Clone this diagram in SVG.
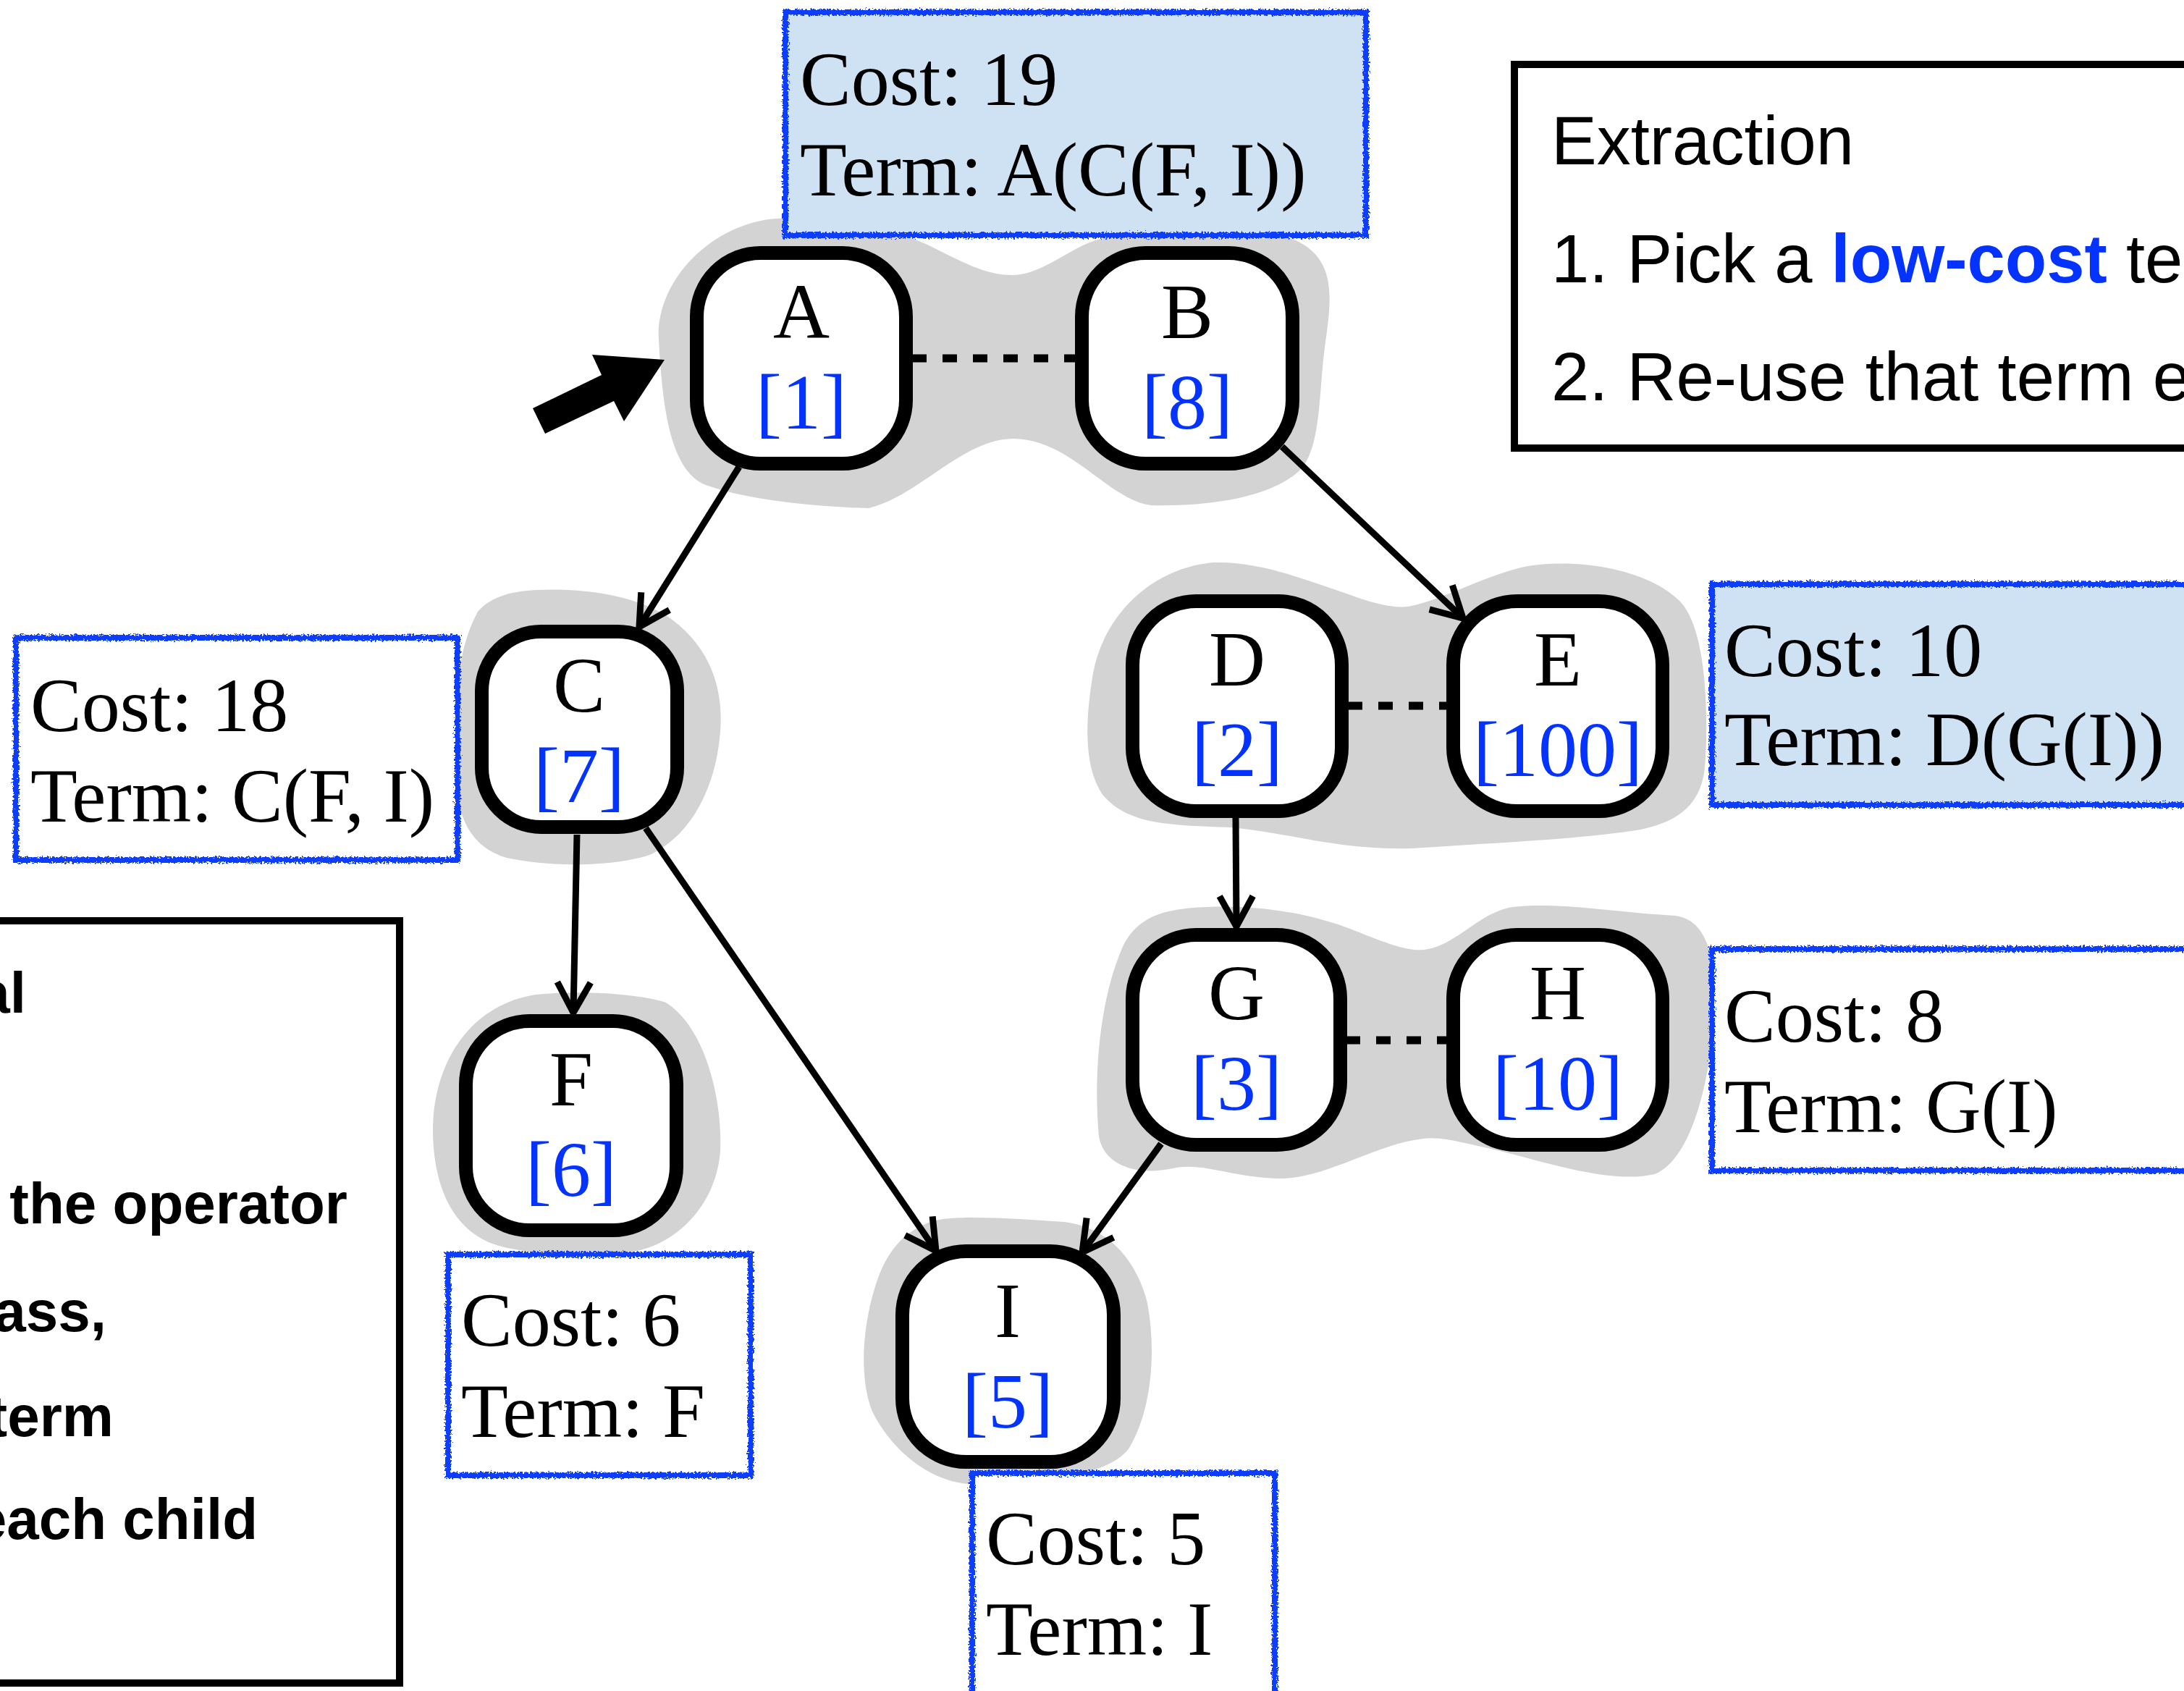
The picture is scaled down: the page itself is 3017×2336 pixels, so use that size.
<svg xmlns="http://www.w3.org/2000/svg" width="3017" height="2336" viewBox="0 0 3017 2336">
  <defs>
    <style>
      .blob { fill: #d3d3d3; }
      .node rect { fill: #ffffff; stroke: #000000; stroke-width: 19; }
      .lbl { font-family: "Liberation Serif", "Times New Roman", serif; font-size: 108px; text-anchor: middle; fill: #000000; }
      .num { font-family: "Liberation Serif", "Times New Roman", serif; font-size: 108px; text-anchor: middle; fill: #0433ff; }
      .fill-blue { fill: #cfe2f3; }
      .fill-white { fill: #ffffff; }
      .rough { fill: none; stroke: #0a3cff; stroke-width: 8; filter: url(#rough); }
      .cost { font-family: "Liberation Serif", "Times New Roman", serif; font-size: 106px; fill: #000000; }
      .edge { fill: none; stroke: #000000; stroke-width: 9; marker-end: url(#arrow); }
      .equiv { fill: none; stroke: #000000; stroke-width: 11; stroke-dasharray: 20 22; }
      .panel { fill: #ffffff; stroke: #000000; stroke-width: 10; }
      .sans { font-family: "Liberation Sans", Arial, Helvetica, sans-serif; fill: #000000; }
      .hl { fill: #0433ff; font-weight: bold; }
    </style>
    <marker id="arrow" markerUnits="userSpaceOnUse" markerWidth="80" markerHeight="80" viewBox="-60 -40 80 80" refX="0" refY="0" orient="auto" overflow="visible">
      <path d="M -42 -23 L 0 0 L -42 23" fill="none" stroke="#000000" stroke-width="9" stroke-linejoin="miter"/>
    </marker>
    <filter id="rough" x="-5%" y="-5%" width="110%" height="110%">
      <feTurbulence type="fractalNoise" baseFrequency="0.4" numOctaves="2" seed="3"/>
      <feDisplacementMap in="SourceGraphic" scale="8" xChannelSelector="R" yChannelSelector="G"/>
    </filter>
  </defs>

  <!-- e-class backgrounds -->
  <g id="classes">
    <path id="class-AB" class="blob" d="M 1071 302 C 1150 300, 1230 315, 1279 337 C 1330 362, 1360 380, 1399 380 C 1440 380, 1480 340, 1520 330 C 1600 312, 1740 310, 1790 332 C 1850 360, 1838 420, 1830 480 C 1822 540, 1825 610, 1800 645 C 1760 690, 1660 700, 1590 698 C 1530 690, 1480 607, 1400 606 C 1330 606, 1270 685, 1200 702 C 1120 700, 1030 690, 975 670 C 925 650, 915 560, 910 470 C 905 390, 980 310, 1071 302 Z"/>
    <path id="class-C" class="blob" d="M 740 815 C 800 812, 870 820, 920 850 C 980 890, 1000 950, 995 1010 C 990 1080, 960 1150, 900 1180 C 850 1198, 760 1198, 700 1185 C 650 1170, 630 1130, 628 1060 C 626 980, 630 900, 660 845 C 680 822, 710 817, 740 815 Z"/>
    <path id="class-F" class="blob" d="M 740 1374 C 800 1368, 880 1372, 920 1385 C 975 1420, 998 1520, 995 1590 C 990 1660, 940 1715, 880 1728 C 820 1738, 730 1735, 680 1718 C 620 1695, 598 1630, 598 1560 C 598 1480, 640 1390, 740 1374 Z"/>
    <path id="class-DE" class="blob" d="M 1676 777 C 1740 775, 1800 800, 1860 820 C 1900 835, 1925 840, 1945 838 C 1990 830, 2050 795, 2110 782 C 2190 770, 2280 790, 2320 830 C 2360 870, 2360 1000, 2355 1060 C 2350 1110, 2320 1135, 2266 1146 C 2180 1160, 2050 1165, 1950 1172 C 1850 1175, 1780 1150, 1700 1143 C 1620 1140, 1560 1140, 1525 1100 C 1495 1060, 1500 990, 1510 930 C 1525 850, 1590 785, 1676 777 Z"/>
    <path id="class-GH" class="blob" d="M 1668 1253 C 1750 1250, 1820 1265, 1870 1285 C 1920 1305, 1945 1314, 1966 1312 C 2010 1308, 2040 1262, 2089 1253 C 2150 1245, 2250 1262, 2314 1265 C 2360 1270, 2372 1330, 2368 1400 C 2364 1480, 2340 1600, 2286 1622 C 2230 1635, 2150 1610, 2080 1592 C 2020 1578, 1990 1570, 1966 1573 C 1900 1580, 1830 1630, 1764 1628 C 1700 1626, 1660 1605, 1620 1614 C 1570 1625, 1525 1610, 1518 1570 C 1510 1480, 1520 1380, 1550 1310 C 1570 1265, 1610 1255, 1668 1253 Z"/>
    <path id="class-I" class="blob" d="M 1313 1683 C 1360 1680, 1420 1685, 1470 1688 C 1530 1695, 1570 1740, 1585 1800 C 1598 1870, 1590 1950, 1560 2000 C 1530 2045, 1400 2050, 1337 2050 C 1280 2045, 1230 2000, 1205 1950 C 1185 1900, 1192 1820, 1215 1760 C 1235 1710, 1270 1686, 1313 1683 Z"/>
  </g>

  <!-- cost / term annotations -->
  <g id="cost-A">
    <rect class="fill-blue" x="1085" y="17" width="802" height="308"/>
    <rect class="rough" x="1085" y="17" width="802" height="308"/>
    <text class="cost" x="1105" y="145">Cost: 19</text>
    <text class="cost" x="1105" y="270">Term: A(C(F, I))</text>
  </g>
  <g id="cost-C">
    <rect class="fill-white" x="22" y="881" width="610" height="307"/>
    <rect class="rough" x="22" y="881" width="610" height="307"/>
    <text class="cost" x="42" y="1010">Cost: 18</text>
    <text class="cost" x="42" y="1135">Term: C(F, I)</text>
  </g>
  <g id="cost-E">
    <rect class="fill-blue" x="2365" y="807" width="700" height="305"/>
    <rect class="rough" x="2365" y="807" width="700" height="305"/>
    <text class="cost" x="2382" y="934">Cost: 10</text>
    <text class="cost" x="2382" y="1057">Term: D(G(I))</text>
  </g>
  <g id="cost-G">
    <rect class="fill-white" x="2365" y="1311" width="700" height="306"/>
    <rect class="rough" x="2365" y="1311" width="700" height="306"/>
    <text class="cost" x="2382" y="1439">Cost: 8</text>
    <text class="cost" x="2382" y="1564">Term: G(I)</text>
  </g>
  <g id="cost-F">
    <rect class="fill-white" x="619" y="1733" width="418" height="305"/>
    <rect class="rough" x="619" y="1733" width="418" height="305"/>
    <text class="cost" x="637" y="1859">Cost: 6</text>
    <text class="cost" x="637" y="1985">Term: F</text>
  </g>
  <g id="cost-I">
    <rect class="fill-white" x="1343" y="2035" width="418" height="400"/>
    <rect class="rough" x="1343" y="2035" width="418" height="400"/>
    <text class="cost" x="1362" y="2161">Cost: 5</text>
    <text class="cost" x="1362" y="2286">Term: I</text>
  </g>

  <!-- e-nodes -->
  <g id="node-A" class="node">
    <rect x="962.5" y="349.5" width="289" height="291" rx="88"/>
    <text class="lbl" x="1107" y="467">A</text>
    <text class="num" x="1107" y="592">[1]</text>
  </g>
  <g id="node-B" class="node">
    <rect x="1494.5" y="349.5" width="291" height="291" rx="88"/>
    <text class="lbl" x="1640" y="467">B</text>
    <text class="num" x="1640" y="592">[8]</text>
  </g>
  <g id="node-C" class="node">
    <rect x="665.5" y="872.5" width="270" height="270" rx="82"/>
    <text class="lbl" x="800" y="983">C</text>
    <text class="num" x="800" y="1108">[7]</text>
  </g>
  <g id="node-D" class="node">
    <rect x="1564.5" y="830.5" width="289" height="290" rx="88"/>
    <text class="lbl" x="1709" y="947">D</text>
    <text class="num" x="1709" y="1072">[2]</text>
  </g>
  <g id="node-E" class="node">
    <rect x="2007.5" y="830.5" width="289" height="290" rx="88"/>
    <text class="lbl" x="2152" y="947">E</text>
    <text class="num" x="2152" y="1072">[100]</text>
  </g>
  <g id="node-G" class="node">
    <rect x="1564.5" y="1291.5" width="287" height="290" rx="88"/>
    <text class="lbl" x="1708" y="1408">G</text>
    <text class="num" x="1708" y="1533">[3]</text>
  </g>
  <g id="node-H" class="node">
    <rect x="2007.5" y="1291.5" width="289" height="290" rx="88"/>
    <text class="lbl" x="2152" y="1408">H</text>
    <text class="num" x="2152" y="1533">[10]</text>
  </g>
  <g id="node-F" class="node">
    <rect x="643.5" y="1410.5" width="291" height="289" rx="88"/>
    <text class="lbl" x="789" y="1527">F</text>
    <text class="num" x="789" y="1652">[6]</text>
  </g>
  <g id="node-I" class="node">
    <rect x="1246.5" y="1728.5" width="292" height="291" rx="88"/>
    <text class="lbl" x="1392" y="1847">I</text>
    <text class="num" x="1392" y="1972">[5]</text>
  </g>

  <!-- connectors -->
  <g id="connectors">
    <path class="equiv" d="M 1260 495 H 1486"/>
    <path class="equiv" d="M 1862 975 H 1999"/>
    <path class="equiv" d="M 1859 1437 H 1999"/>
    <path class="edge" d="M 1021 645 L 883 866"/>
    <path class="edge" d="M 1771 617 L 2021 854"/>
    <path class="edge" d="M 797 1153 L 792 1399"/>
    <path class="edge" d="M 892 1144 L 1293 1728"/>
    <path class="edge" d="M 1707 1129 L 1708 1280"/>
    <path class="edge" d="M 1604 1580 L 1495 1730"/>
    <polygon id="root-pointer" points="736,564 831,518 818,490 918,497 862,582 848,554 753,599" fill="#000000"/>
  </g>

  <!-- extraction steps panel -->
  <g id="extraction-panel">
    <rect class="panel" x="2092" y="89" width="1000" height="530"/>
    <text class="sans" x="2143" y="227" font-size="94">Extraction</text>
    <text class="sans" x="2143" y="390" font-size="94">1. Pick a <tspan class="hl">low-cost</tspan> te</text>
    <text class="sans" x="2143" y="553" font-size="94">2. Re-use that term e</text>
  </g>

  <!-- left panel -->
  <g id="left-panel">
    <rect class="panel" x="-50" y="1272" width="602" height="1053"/>
    <g class="sans" font-size="80" font-weight="bold" text-anchor="end">
      <text x="36" y="1399">al</text>
      <text x="480" y="1690">the operator</text>
      <text x="147" y="1839">ass,</text>
      <text x="157" y="1984">term</text>
      <text x="356" y="2126">each child</text>
    </g>
  </g>
</svg>
